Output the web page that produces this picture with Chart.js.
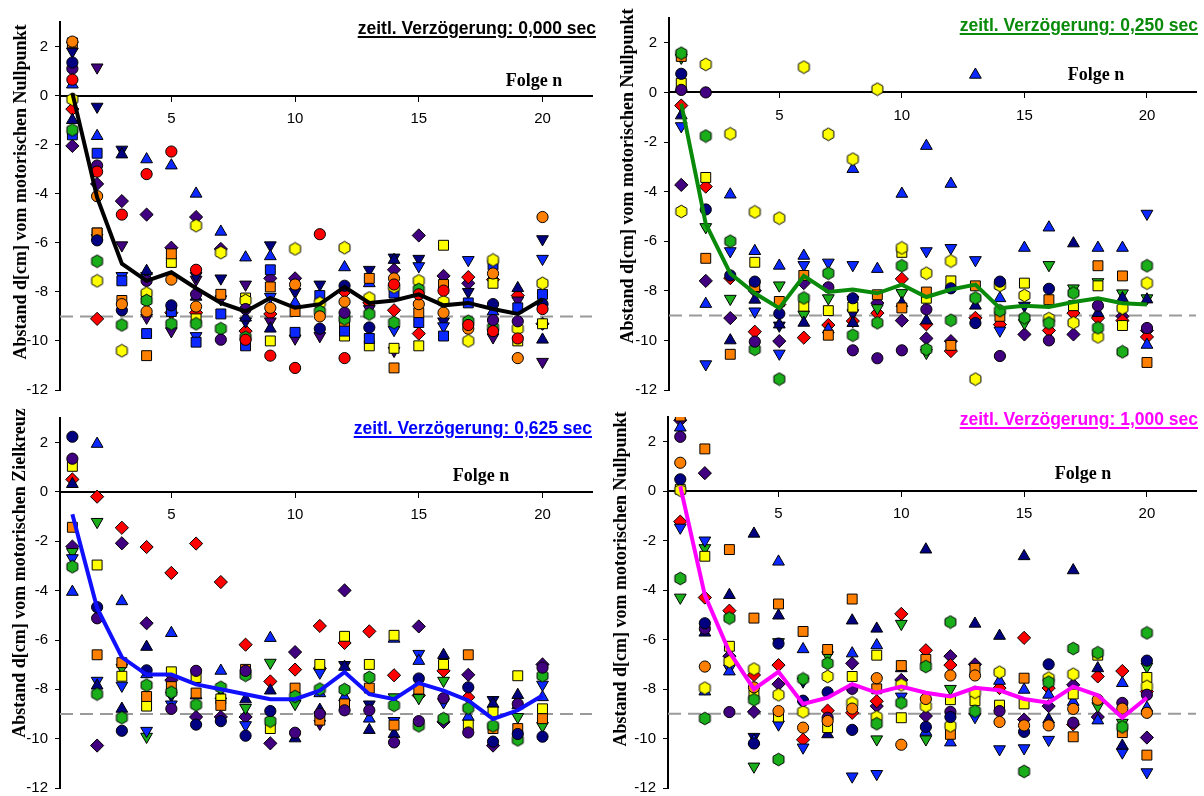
<!DOCTYPE html>
<html>
<head>
<meta charset="utf-8">
<script src="https://cdn.jsdelivr.net/npm/chart.js@4.4.1/dist/chart.umd.min.js"></script>
<style>
  body { margin: 0; background: #fff; width: 1204px; height: 796px; position: relative; overflow: hidden; }
  canvas { position: absolute; }
  .ttl { position: absolute; font: bold 17.5px "Liberation Sans", Arial, sans-serif; text-decoration: underline;
         text-decoration-thickness: 2px; text-underline-offset: 2px; white-space: nowrap; }
  .fn { position: absolute; font: bold 18px "Liberation Serif", "Times New Roman", serif; white-space: nowrap;
        transform: translateX(-50%); }
  .yt { position: absolute; font: bold 18px "Liberation Serif", "Times New Roman", serif; white-space: nowrap;
        transform: translate(-50%, -50%) rotate(-90deg); }
</style>
</head>
<body>
<canvas id="c1" width="602" height="398" style="left:0;top:0"></canvas>
<canvas id="c2" width="602" height="398" style="left:602px;top:0"></canvas>
<canvas id="c3" width="602" height="398" style="left:0;top:398px"></canvas>
<canvas id="c4" width="602" height="398" style="left:602px;top:398px"></canvas>

<div class="ttl" style="right:608px;top:18px;color:#000">zeitl. Verzögerung: 0,000 sec</div>
<div class="ttl" style="right:6px;top:15px;color:#0A8A0A">zeitl. Verzögerung: 0,250 sec</div>
<div class="ttl" style="right:612px;top:418px;color:#0000FF">zeitl. Verzögerung: 0,625 sec</div>
<div class="ttl" style="right:6px;top:409px;color:#FF00FF">zeitl. Verzögerung: 1,000 sec</div>

<div class="fn" style="left:534px;top:70px">Folge n</div>
<div class="fn" style="left:1096px;top:64px">Folge n</div>
<div class="fn" style="left:481px;top:465px">Folge n</div>
<div class="fn" style="left:1083px;top:463px">Folge n</div>

<div class="yt" style="left:20px;top:192px">Abstand d[cm] vom motorischen Nullpunkt</div>
<div class="yt" style="left:627px;top:176px">Abstand d[cm] vom motorischen Nullpunkt</div>
<div class="yt" style="left:19px;top:573px">Abstand d[cm] vom motorischen Zielkreuz</div>
<div class="yt" style="left:620px;top:579px">Abstand d[cm] vom motorischen Nullpunkt</div>

<script>
// Folge n (trial number) and axis ticks
const folge = [1,2,3,4,5,6,7,8,9,10,11,12,13,14,15,16,17,18,19,20];
const xTicks = [5,10,15,20];
const yTicks = [-12,-10,-8,-6,-4,-2,0,2];
const refLevel = -9;   // Zielniveau (gestrichelte Linie)

// ---- Verzögerung 0,000 sec ----
const tl_cR = [0.65,-3.1,-4.85,-3.2,-2.28,-7.1,null,-9.95,-10.6,-11.1,-5.65,-10.7,null,-7.7,-8.1,-7.95,-9.35,-9.6,-9.9,-8.7];
const tl_cO = [2.2,-4.1,-8.5,-8.8,-7.5,-8.6,null,null,-8.65,-7.7,-9.0,-8.4,null,-7.45,-8.5,-8.85,-9.5,-7.25,-10.7,-4.95];
const tl_cN = [1.35,-5.9,-8.75,null,-8.55,null,null,null,null,null,-9.5,-7.75,-9.45,null,null,null,null,-8.5,null,-8.5];
const tl_cP = [1.1,-2.85,null,-7.55,null,-8.1,-9.95,-8.7,null,null,null,-8.85,null,null,null,null,null,-9.15,-9.2,null];
const tl_hG = [-1.4,-6.75,-9.35,-8.35,-9.3,-9.3,-9.5,-9.85,null,null,-8.8,-9.1,-8.9,-9.25,-7.9,null,-9.2,-9.45,null,null];
const tl_hY = [-0.15,-7.55,-10.4,-8.05,null,-5.3,-6.4,-8.35,null,-6.25,-8.45,-6.2,-8.25,-7.8,-7.55,-8.4,-10.0,-6.7,-9.5,-7.65];
const tl_sB = [-1.6,-2.35,-7.55,-9.7,-8.8,-10.05,-8.9,-10.2,-7.1,-9.65,-8.15,-9.6,-9.9,-8.05,-9.25,-9.8,-8.45,-6.9,-8.65,-8.1];
const tl_sO = [2.15,-5.6,-8.35,-10.6,-6.45,null,-8.1,null,-7.8,-8.8,null,-9.3,-7.45,-11.1,-8.85,-7.7,null,null,null,null];
const tl_sY = [null,-5.6,null,-8.2,-6.8,-9.1,null,-8.25,-10.0,null,null,-9.8,-10.2,-10.3,-10.2,-6.1,null,-7.65,-10.0,-9.3];
const tl_tB = [0.45,-1.65,null,-2.6,-2.85,-4.0,-5.55,-6.6,-6.55,-8.45,null,-7.0,-7.65,null,null,null,null,-8.8,null,null];
const tl_tN = [-1.0,-5.75,-2.4,-7.15,null,-8.2,null,-9.05,-9.5,null,null,null,null,-6.7,null,null,null,null,-7.85,-9.95];
const tl_vB = [null,-5.8,-7.35,-7.35,null,-9.8,null,null,-8.2,null,null,null,null,-9.55,-6.95,-9.4,-6.7,null,null,-6.65];
const tl_vN = [1.8,-0.45,-2.2,null,null,-7.35,-7.45,-9.2,-6.1,-8.0,-7.7,null,-7.1,-6.6,-6.65,-9.2,-8.0,null,null,-5.85];
const tl_vP = [2.05,1.15,-6.1,-9.05,-9.6,-7.5,-8.3,-7.7,-9.2,-9.9,-9.8,null,-8.7,-10.4,null,null,null,-9.85,-8.35,-10.85];
const tl_vG = [null,null,null,null,null,null,null,null,null,null,null,null,null,null,null,null,null,null,null,null];
const tl_dR = [-0.55,-9.1,null,null,-8.85,-8.85,null,-9.6,-8.9,null,null,-8.0,-8.45,-8.75,-9.7,null,-7.4,-7.5,-8.15,null];
const tl_dP = [-2.05,-3.6,-4.3,-4.85,-6.2,-4.95,-6.25,null,-7.45,-7.45,null,null,null,-7.1,-5.7,-7.35,-7.65,null,null,-9.3];
const tl_mean = [0.1,-4.15,-6.85,-7.55,-7.2,-7.85,-8.45,-8.8,-8.25,-8.65,-8.5,-7.8,-8.45,-8.35,-8.1,-8.55,-8.45,-8.7,-8.9,-8.3];

// ---- Verzögerung 0,250 sec ----
const tr_cR = [null,null,null,null,null,null,null,null,null,null,null,null,null,null,null,null,null,null,null,null];
const tr_cO = [null,null,null,null,null,null,null,null,null,null,null,null,null,null,null,null,null,null,null,null];
const tr_cN = [0.75,-4.72,-7.38,-7.63,-8.92,null,null,-8.3,null,null,null,-7.9,-9.3,-7.63,null,-7.92,null,null,null,null];
const tr_cP = [0.1,0.0,null,-10.05,null,null,-7.86,-10.4,-10.72,-10.4,-8.75,null,null,-10.63,null,-10.0,null,-8.6,null,-9.5];
const tr_hG = [1.58,-1.76,-6.0,-10.36,-11.56,-8.29,-7.29,-9.79,-9.29,-6.99,-10.36,-9.19,-8.29,-8.8,-9.09,-9.3,-8.09,-9.49,-10.46,-6.99];
const tr_hY = [-4.8,1.13,-1.67,-4.82,-5.07,1.02,-1.69,-2.69,0.13,-6.27,-7.29,-6.8,-11.56,-7.78,-8.19,-9.12,-9.29,-9.86,-8.7,-7.69];
const tr_sB = [null,null,null,null,null,null,null,null,null,null,null,null,null,null,null,null,null,null,null,null];
const tr_sO = [1.45,-6.69,-10.56,-7.83,-8.43,-7.38,-9.79,null,-8.16,-8.69,-8.05,-10.2,-7.8,-9.03,null,-8.36,null,-6.99,-7.4,-10.89];
const tr_sY = [0.37,-3.43,null,-6.85,null,-8.62,-8.8,-8.66,null,-6.45,-8.3,-7.6,null,-7.73,-7.69,null,-8.6,-7.8,-9.4,null];
const tr_tB = [0.22,-8.53,-4.12,-6.4,-6.99,-6.59,-9.56,-3.09,-7.12,-4.09,-2.16,-3.69,0.71,-8.3,-6.27,-5.45,null,-6.27,-6.27,-10.18];
const tr_tN = [-0.93,null,-10.0,-8.36,-9.36,-9.29,null,-9.3,null,-8.5,-9.2,null,-8.6,null,null,null,-6.09,-8.9,-8.3,-8.35];
const tr_vB = [-1.36,-10.96,-6.4,-8.83,-10.53,-6.96,-6.86,-6.96,null,null,-6.4,-6.27,-6.76,-9.6,null,null,null,null,null,-4.89];
const tr_vN = [null,null,null,null,-9.4,null,null,-8.9,null,null,null,null,null,null,-8.6,null,null,null,null,null];
const tr_vP = [null,null,null,null,null,null,null,null,null,null,null,null,null,null,null,null,null,null,null,null];
const tr_vG = [1.4,-5.43,-8.32,null,-7.78,-8.96,-8.3,-8.36,-8.7,-8.09,-10.5,null,null,null,-9.3,-6.96,-7.9,-7.65,-8.1,-8.3];
const tr_dR = [-0.53,-3.8,-7.49,-9.65,-8.55,-9.89,-9.38,-9.22,-8.9,-7.52,-9.35,-10.43,-9.09,-9.36,null,-9.6,-8.9,-9.1,-9.2,-9.86];
const tr_dP = [-3.73,-7.6,-9.1,-8.0,-10.03,-7.69,null,null,-8.49,-9.2,-9.92,-10.03,null,null,-9.76,null,-9.76,null,-9.03,-9.6];
const tr_mean = [-0.45,-5.3,-7.3,-8.1,-8.7,-7.4,-8.05,-7.95,-8.1,-7.75,-8.25,-7.95,-7.75,-8.7,-8.6,-8.65,-8.45,-8.3,-8.5,-8.55];

// ---- Verzögerung 0,625 sec ----
const bl_cR = [null,null,null,null,null,null,null,null,null,null,null,null,null,null,null,null,null,null,null,null];
const bl_cO = [null,null,null,null,null,null,null,null,null,null,null,null,null,null,null,null,null,null,null,null];
const bl_cN = [2.24,-4.67,-9.68,-7.23,null,-9.43,-9.29,-9.88,-8.88,null,null,null,null,null,-7.56,null,-7.92,-10.12,-9.81,-9.92];
const bl_cP = [1.35,-5.12,null,null,-8.79,-7.25,null,-7.25,null,-9.76,-8.99,-8.85,-8.85,-10.15,-9.29,-8.36,-9.75,null,-8.59,-7.12];
const bl_hG = [-3.03,-8.19,-9.15,-7.83,-8.12,-8.63,-7.92,-7.43,-9.29,-8.29,-7.99,-8.01,-7.52,-8.65,-9.48,-9.19,-8.76,-9.48,-10.05,-7.45];
const bl_hY = [null,null,null,null,null,null,null,null,null,null,null,null,null,null,null,null,null,null,null,null];
const bl_sB = [null,null,null,null,null,null,null,null,null,null,null,null,null,null,null,null,null,null,null,null];
const bl_sO = [-1.43,-6.6,-6.92,-8.29,-7.89,-8.15,-8.65,-7.19,null,-7.95,-9.25,-8.59,-7.95,-9.45,-7.99,null,-6.6,-9.59,-9.59,-9.19];
const bl_sY = [1.04,-2.96,-7.47,-8.68,-7.29,-7.52,-8.39,null,-9.59,null,-6.99,-5.85,-6.99,-5.81,null,-6.99,-9.45,-8.92,-7.45,-8.79];
const bl_tB = [-4.05,1.95,-4.43,-7.39,-5.72,-8.25,-7.25,null,-5.92,null,-8.16,-8.32,-9.19,-5.95,-6.85,null,-9.12,null,-8.65,-8.32];
const bl_tN = [0.32,-7.85,-8.79,-6.28,null,null,-8.25,-8.41,-8.05,-9.99,-8.83,-7.09,-9.65,-9.81,null,-6.61,null,-8.59,-8.23,null];
const bl_vB = [-2.68,-7.65,-7.85,-9.68,-8.61,null,null,-9.45,null,null,-7.32,null,null,-9.28,-6.56,-8.52,null,null,null,-7.81];
const bl_vN = [null,null,null,null,-8.25,null,null,null,null,null,null,-7.01,-8.61,null,null,null,null,-8.43,null,null];
const bl_vP = [null,null,null,null,null,null,null,null,null,null,-9.39,null,null,null,null,null,null,null,null,null];
const bl_vG = [-2.43,-1.21,-7.12,-9.92,null,null,null,-8.75,-6.92,-8.59,null,null,null,-8.32,-8.35,-7.65,null,null,-9.12,-9.48];
const bl_dR = [0.51,-0.19,-1.45,-2.23,-3.28,-2.09,-3.65,-6.19,-7.68,-7.2,-5.43,-6.12,-5.65,-7.43,-8.25,-7.25,-8.32,null,null,null];
const bl_dP = [-2.21,-10.28,-2.08,-5.32,-7.63,-9.12,-9.12,-9.12,-10.19,-6.49,-7.15,-3.99,null,null,-5.45,-9.32,-7.41,-10.28,null,-6.99];
const bl_mean = [-0.9,-4.7,-6.7,-7.4,-7.4,-7.8,-8.0,-8.2,-8.4,-8.4,-8.05,-7.3,-8.2,-8.4,-7.75,-8.05,-8.45,-9.2,-8.85,-8.25];

// ---- Verzögerung 1,000 sec ----
const br_cR = [null,null,null,null,null,null,null,null,null,null,null,null,null,null,null,null,null,null,null,null];
const br_cO = [1.15,-7.09,null,-7.93,-8.89,-9.56,-9.29,-8.79,-7.56,-10.25,-8.4,-7.45,-7.45,-9.33,-9.47,-9.47,-8.8,-8.43,-8.79,-8.96];
const br_cN = [0.48,-5.34,null,-10.2,-6.16,-8.47,-8.13,-9.65,null,null,-9.53,-9.13,null,null,-9.73,-7.0,null,null,null,-6.85];
const br_cP = [2.2,-5.56,-8.93,null,null,null,-9.16,-7.99,null,null,null,-8.92,null,-8.89,null,null,-9.36,null,-8.56,-8.23];
const br_hG = [-3.53,-9.19,-5.13,-8.43,-10.85,-7.59,-6.96,null,-9.4,-8.56,-7.09,-5.29,-8.89,null,-11.33,-7.72,-6.36,-6.53,-9.53,-5.73];
const br_hY = [0.04,-7.96,-6.89,-7.19,-8.23,-8.92,-7.49,-8.56,-9.13,-7.83,-8.69,-9.49,-8.13,-7.32,null,-7.56,-7.4,null,null,-7.89];
const br_sB = [null,null,null,null,null,null,null,null,null,null,null,null,null,null,null,null,null,null,null,null];
const br_sO = [3.04,1.71,-2.36,-5.13,-4.56,-5.67,-6.4,-4.36,-7.99,-7.05,-6.8,-9.83,-7.16,null,-7.56,null,-9.93,null,-9.76,-10.67];
const br_sY = [0.08,-2.63,-6.27,-8.23,-9.13,null,-9.56,-7.49,-6.63,-9.16,null,-8.43,-8.47,-8.65,-8.6,null,-8.2,-6.63,null,-7.53];
const br_tB = [2.57,-8.1,-7.29,-10.09,-2.85,-6.39,null,-6.56,-6.23,null,-9.73,-10.16,null,-7.67,-8.03,-8.23,-8.52,-9.27,-7.76,-8.76];
const br_tN = [null,-5.72,-4.2,-1.72,-5.03,null,-9.83,-5.23,-5.56,-7.16,-2.36,null,-5.36,-5.85,-2.63,-9.23,-3.2,-7.16,-10.29,null];
const br_vB = [-1.47,-1.99,-7.16,null,-9.43,-10.36,null,-11.53,-11.43,-8.3,null,null,-9.13,-10.43,-10.39,-10.05,null,null,-10.56,-11.36];
const br_vN = [null,null,null,-9.93,null,-7.69,null,null,null,null,null,null,null,null,null,null,null,null,null,null];
const br_vP = [null,null,null,null,null,null,null,null,null,null,null,null,null,null,null,null,null,null,null,null];
const br_vG = [-4.3,-2.3,null,-11.13,-6.1,null,-6.63,null,-10.03,-5.36,-10.03,-7.99,null,null,null,null,null,-8.69,-9.36,-7.09];
const br_dR = [-1.23,-4.3,-4.83,-7.43,-7.03,-10.05,-8.87,-8.96,-8.49,-4.96,-6.43,-7.03,null,-7.96,-5.93,-7.96,-9.43,-7.49,-7.27,-8.1];
const br_dP = [2.87,0.73,-6.67,-8.92,-7.8,null,null,-6.96,-8.69,-7.63,-9.09,-6.67,-7.0,null,-9.23,-8.69,-7.83,-9.13,null,-9.96];
const br_mean = [0.2,-4.2,-6.5,-8.0,-7.3,-8.6,-8.35,-7.8,-8.15,-7.9,-8.15,-8.3,-7.95,-8.05,-8.4,-8.55,-7.9,-8.25,-9.15,-8.35];

// Marker appearance for each test person
const MARKERS = {
  cR: { shape: 'circle', color: '#FF0000' },
  cO: { shape: 'circle', color: '#FF8000' },
  cN: { shape: 'circle', color: '#000080' },
  cP: { shape: 'circle', color: '#40007F' },
  hG: { shape: 'hex',    color: '#1AAF1A' },
  hY: { shape: 'hex',    color: '#FFFF00' },
  sB: { shape: 'rect',   color: '#0A28FF' },
  sO: { shape: 'rect',   color: '#FF8000' },
  sY: { shape: 'rect',   color: '#FFFF00' },
  tB: { shape: 'up',     color: '#0A28FF' },
  tN: { shape: 'up',     color: '#000080' },
  vB: { shape: 'down',   color: '#0A28FF' },
  vN: { shape: 'down',   color: '#000080' },
  vP: { shape: 'down',   color: '#40007F' },
  vG: { shape: 'down',   color: '#1AAF1A' },
  dR: { shape: 'diamond', color: '#FF0000' },
  dP: { shape: 'diamond', color: '#40007F' }
};
const ORDER = ['cR','cO','cN','cP','hG','hY','sB','sO','sY','tB','tN','vB','vN','vP','vG','dR','dP'];

const X_MIN = 0.5, X_MAX = 22, Y_MIN = -12, Y_MAX = 3;
const YW = 50;   // reserved width of the y axis (ticks + labels)

function hexagon(color) {
  const c = document.createElement('canvas');
  c.width = 15; c.height = 15;
  const g = c.getContext('2d');
  g.beginPath();
  for (let k = 0; k < 6; k++) {
    const a = -Math.PI / 2 + k * Math.PI / 3;
    const px = 7.5 + 6.3 * Math.cos(a), py = 7.5 + 6.3 * Math.sin(a);
    if (k === 0) g.moveTo(px, py); else g.lineTo(px, py);
  }
  g.closePath();
  g.fillStyle = color; g.fill();
  g.lineWidth = 1; g.strokeStyle = '#000'; g.stroke();
  return c;
}

function markerProps(m) {
  switch (m.shape) {
    case 'circle':  return { pointStyle: 'circle', pointRadius: 5.6, pointRotation: 0 };
    case 'hex':     return { pointStyle: hexagon(m.color), pointRadius: 6, pointRotation: 0 };
    case 'rect':    return { pointStyle: 'rect', pointRadius: 7, pointRotation: 0 };
    case 'up':      return { pointStyle: 'triangle', pointRadius: 6.8, pointRotation: 0 };
    case 'down':    return { pointStyle: 'triangle', pointRadius: 6.8, pointRotation: 180 };
    case 'diamond': return { pointStyle: 'rectRot', pointRadius: 6.6, pointRotation: 0 };
  }
}

function drawPanel(canvasId, series, mean, meanColor, area) {
  const datasets = [];
  datasets.push({
    data: folge.map((n, i) => ({ x: n, y: mean[i] })),
    showLine: true, borderColor: meanColor, borderWidth: 4, pointRadius: 0, tension: 0
  });
  ORDER.forEach(k => {
    const vals = series[k];
    const m = MARKERS[k];
    datasets.push(Object.assign({
      data: folge.map((n, i) => ({ x: n, y: vals[i] })),
      showLine: false,
      backgroundColor: m.color, borderColor: '#000', borderWidth: 1
    }, markerProps(m)));
  });
  datasets.push({
    data: [{ x: X_MIN, y: refLevel }, { x: X_MAX, y: refLevel }],
    showLine: true, borderColor: '#9A9A9A', borderWidth: 2, borderDash: [13, 7], pointRadius: 0
  });

  const tickFont = { family: '"Liberation Sans", Arial, sans-serif', size: 15 };
  new Chart(document.getElementById(canvasId), {
    type: 'scatter',
    data: { datasets },
    options: {
      responsive: false, animation: false, events: [],
      layout: { padding: { left: area.l - YW, top: area.t, right: 602 - area.r, bottom: 398 - area.b } },
      plugins: { legend: { display: false }, tooltip: { enabled: false } },
      scales: {
        x: {
          type: 'linear', min: X_MIN, max: X_MAX, position: { y: 0 },
          afterBuildTicks: s => { s.ticks = xTicks.map(v => ({ value: v })); },
          afterFit: s => { s.height = 0; s.paddingLeft = 0; s.paddingRight = 0; },
          grid: { display: true, drawOnChartArea: false, drawTicks: true, tickLength: 5, color: '#000', lineWidth: 1 },
          border: { display: true, color: '#000', width: 2 },
          ticks: { font: tickFont, color: '#000', padding: 9, maxRotation: 0, autoSkip: false }
        },
        y: {
          type: 'linear', min: Y_MIN, max: Y_MAX,
          afterBuildTicks: s => { s.ticks = yTicks.map(v => ({ value: v })); },
          afterFit: s => { s.width = YW; s.paddingTop = 0; s.paddingBottom = 0; },
          grid: { display: true, drawOnChartArea: false, drawTicks: true, tickLength: 5, color: '#000', lineWidth: 1 },
          border: { display: true, color: '#000', width: 2 },
          ticks: { font: tickFont, color: '#000', padding: 7, autoSkip: false }
        }
      }
    }
  });
}

drawPanel('c1',
  { cR: tl_cR, cO: tl_cO, cN: tl_cN, cP: tl_cP, hG: tl_hG, hY: tl_hY, sB: tl_sB, sO: tl_sO, sY: tl_sY,
    tB: tl_tB, tN: tl_tN, vB: tl_vB, vN: tl_vN, vP: tl_vP, vG: tl_vG, dR: tl_dR, dP: tl_dP },
  tl_mean, '#000000', { l: 60, t: 22, r: 592, b: 397 });
drawPanel('c2',
  { cR: tr_cR, cO: tr_cO, cN: tr_cN, cP: tr_cP, hG: tr_hG, hY: tr_hY, sB: tr_sB, sO: tr_sO, sY: tr_sY,
    tB: tr_tB, tN: tr_tN, vB: tr_vB, vN: tr_vN, vP: tr_vP, vG: tr_vG, dR: tr_dR, dP: tr_dP },
  tr_mean, '#0A8A0A', { l: 67, t: 18, r: 599, b: 393 });
drawPanel('c3',
  { cR: bl_cR, cO: bl_cO, cN: bl_cN, cP: bl_cP, hG: bl_hG, hY: bl_hY, sB: bl_sB, sO: bl_sO, sY: bl_sY,
    tB: bl_tB, tN: bl_tN, vB: bl_vB, vN: bl_vN, vP: bl_vP, vG: bl_vG, dR: bl_dR, dP: bl_dP },
  bl_mean, '#1010FF', { l: 60, t: 20, r: 592, b: 395 });
drawPanel('c4',
  { cR: br_cR, cO: br_cO, cN: br_cN, cP: br_cP, hG: br_hG, hY: br_hY, sB: br_sB, sO: br_sO, sY: br_sY,
    tB: br_tB, tN: br_tN, vB: br_vB, vN: br_vN, vP: br_vP, vG: br_vG, dR: br_dR, dP: br_dP },
  br_mean, '#FF00FF', { l: 66, t: 19, r: 598, b: 394 });
</script>
</body>
</html>
